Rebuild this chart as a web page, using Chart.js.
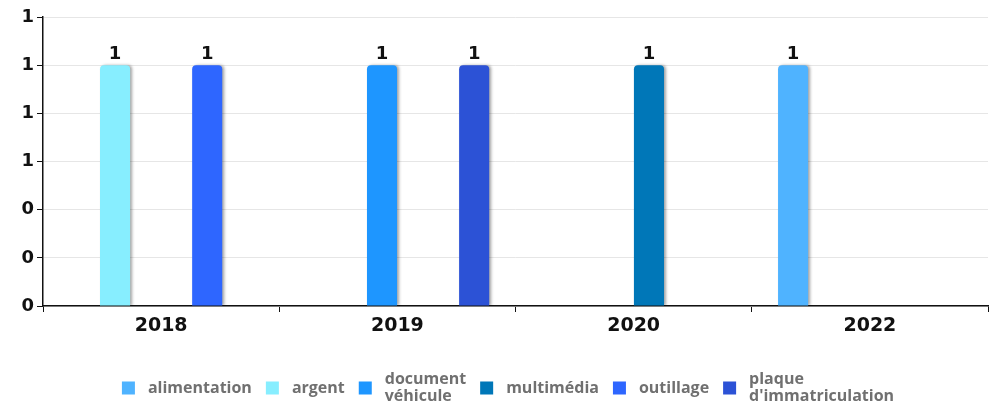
<!DOCTYPE html>
<html>
<head>
<meta charset="utf-8">
<script src="https://cdn.jsdelivr.net/npm/chart.js@4/dist/chart.umd.min.js"></script>
<style>
  html, body { margin: 0; padding: 0; background: #fff; }
  #wrap { width: 996px; height: 406px; }
</style>
</head>
<body>
<div id="wrap"><canvas id="myChart"></canvas></div>
<script>
// years on the x axis
var years = ['2018', '2019', '2020', '2022'];

// one array per category (null = no bar)
var alimentation = [null, null, null, 1];
var argent = [1, null, null, null];
var documentVehicule = [null, 1, null, null];
var multimedia = [null, null, 1, null];
var outillage = [1, null, null, null];
var plaque = [null, 1, null, null];

var seriesNames = ['alimentation', 'argent', ['document', 'véhicule'], 'multimédia', 'outillage', ['plaque', "d'immatriculation"]];
var seriesColors = ['#4fb3ff', '#87eeff', '#1e96ff', '#0077b8', '#2e66ff', '#2c52d6'];

var yTicks = [0, 0.2, 0.4, 0.6, 0.8, 1, 1.2];

var allSeries = [alimentation, argent, documentVehicule, multimedia, outillage, plaque];

var tickFont = '"DejaVu Sans", sans-serif';
var legendFont = 'bold 16px "Open Sans", sans-serif';

// shadow on the right side of bars
var barShadow = {
  id: 'barShadow',
  beforeDatasetsDraw: function(chart) {
    var c = chart.ctx;
    c.save();
    c.shadowColor = 'rgba(0,0,0,0.35)';
    c.shadowBlur = 3;
    c.shadowOffsetX = 2;
    c.shadowOffsetY = 0;
  },
  afterDatasetsDraw: function(chart) {
    chart.ctx.restore();
  }
};

// value labels on top of the bars
var valueLabels = {
  id: 'valueLabels',
  afterDatasetsDraw: function(chart) {
    var c = chart.ctx;
    c.save();
    c.font = 'bold 18px ' + tickFont;
    c.fillStyle = '#111';
    c.textAlign = 'center';
    c.textBaseline = 'alphabetic';
    chart.data.datasets.forEach(function(ds, i) {
      var meta = chart.getDatasetMeta(i);
      meta.data.forEach(function(bar, j) {
        var v = ds.data[j];
        if (v == null) return;
        c.fillText(String(v), bar.x, bar.y - 6);
      });
    });
    c.restore();
  }
};

// legend drawn by hand: boxes centred on a row, two-line labels centred on the box
var bottomLegend = {
  id: 'bottomLegend',
  afterDraw: function(chart) {
    var c = chart.ctx;
    var rowY = 388, box = 13, gap = 13, itemGap = 14, lineH = 17;
    c.save();
    c.font = legendFont;
    var widths = seriesNames.map(function(n) {
      var lines = [].concat(n);
      return Math.max.apply(null, lines.map(function(l) { return c.measureText(l).width; }));
    });
    var total = 0;
    widths.forEach(function(w, i) { total += box + gap + w + (i ? itemGap : 0); });
    var x = 508 - total / 2;
    c.textBaseline = 'middle';
    c.textAlign = 'left';
    seriesNames.forEach(function(n, i) {
      var lines = [].concat(n);
      c.fillStyle = seriesColors[i];
      c.fillRect(x, rowY - box / 2, box, box);
      c.fillStyle = '#707070';
      var y0 = rowY - (lines.length - 1) * lineH / 2;
      lines.forEach(function(l, k) { c.fillText(l, x + box + gap, y0 + k * lineH); });
      x += box + gap + widths[i] + itemGap;
    });
    c.restore();
  }
};

var datasets = allSeries.map(function(d, i) {
  return {
    label: seriesNames[i],
    data: d,
    backgroundColor: seriesColors[i],
    borderRadius: { topLeft: 4, topRight: 4, bottomLeft: 0, bottomRight: 0 },
    borderSkipped: false,
    barPercentage: 0.98,
    categoryPercentage: 0.78
  };
});

var ctx = document.getElementById('myChart').getContext('2d');
var myChart = new Chart(ctx, {
  type: 'bar',
  data: { labels: years, datasets: datasets },
  plugins: [barShadow, valueLabels, bottomLegend],
  options: {
    responsive: true,
    maintainAspectRatio: false,
    animation: false,
    layout: { padding: { top: 17, right: 8, left: 3, bottom: 60 } },
    plugins: {
      tooltip: { enabled: false },
      legend: { display: false }
    },
    scales: {
      x: {
        afterFit: function(axis) { axis.height = 40; },
        grid: { display: true, drawOnChartArea: false, color: '#111', tickLength: 6, offset: true },
        border: { color: '#111', width: 1.5 },
        ticks: { color: '#111', font: { family: tickFont, size: 19, weight: 'bold' }, padding: 3 }
      },
      y: {
        min: 0,
        max: 1.2,
        afterBuildTicks: function(axis) {
          axis.ticks = yTicks.map(function(v) { return { value: v }; });
        },
        afterFit: function(axis) { axis.width = 40; },
        grid: { color: '#e6e6e6', tickColor: '#111', tickLength: 6 },
        border: { color: '#111', width: 1.5 },
        ticks: {
          color: '#111',
          font: { family: tickFont, size: 18, weight: 'bold' },
          padding: 3,
          callback: function(v) { return Math.round(v); }
        }
      }
    }
  }
});
</script>
</body>
</html>
